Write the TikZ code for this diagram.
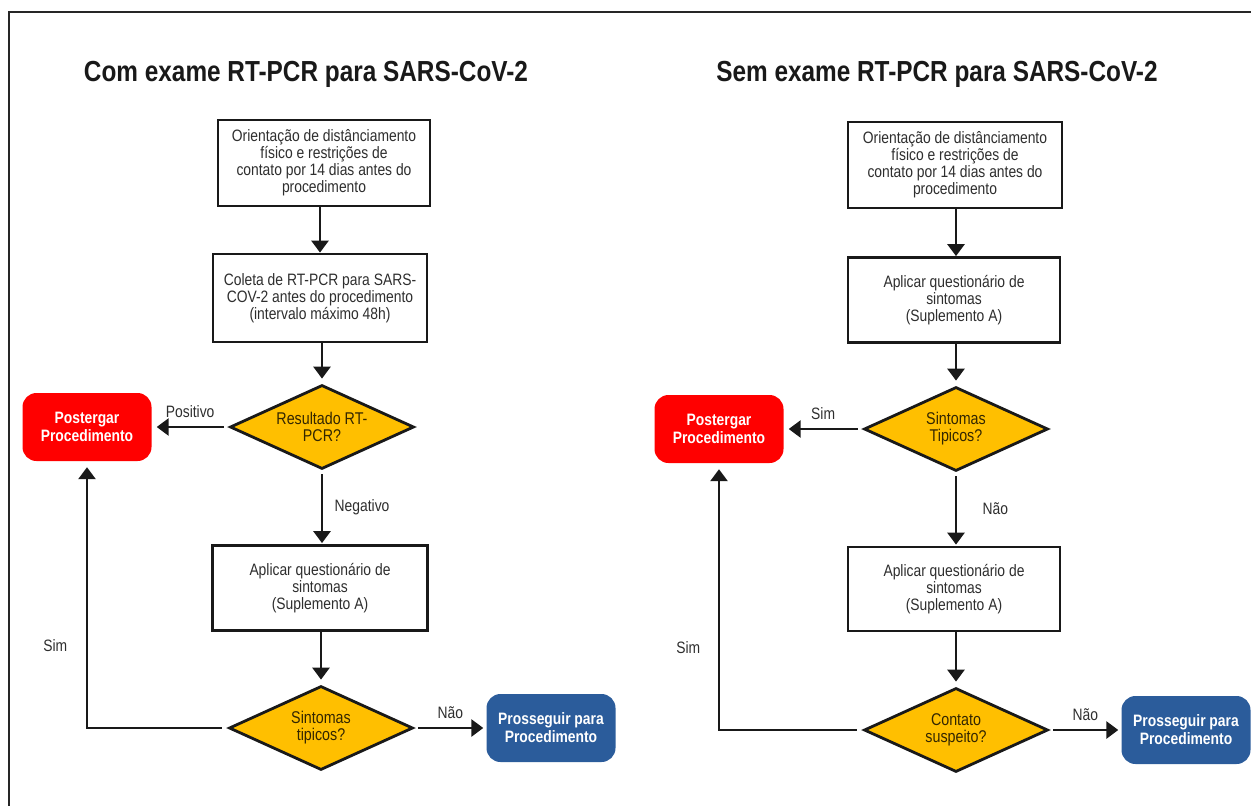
\documentclass[tikz,border=0pt]{standalone}
\usepackage{fontspec}
\setmainfont{Liberation Sans}[FakeStretch=0.84]
\usetikzlibrary{arrows.meta,positioning,shapes.geometric}
\definecolor{decyellow}{HTML}{FFBF00}
\definecolor{stopred}{HTML}{FF0000}
\definecolor{goblue}{HTML}{2B5C9B}
\definecolor{txtgray}{HTML}{2E2E2E}

\begin{document}
\begin{tikzpicture}[x=1pt,y=-1pt,
    stepbox/.style={draw=black!90, line width=2.8pt, fill=white, minimum width=212pt,
        minimum height=86pt, align=center, text=txtgray, font=\fontsize{16.5}{17}\selectfont},
    decision/.style={diamond, aspect=2.2, draw=black!90, line width=2.8pt, fill=decyellow, minimum width=184pt,
        minimum height=84pt, inner sep=0pt, align=center, text=black!80!decyellow,
        font=\fontsize{17}{17}\selectfont},
    endbox/.style={rounded corners=14pt, minimum width=129pt, minimum height=68pt, align=center,
        text=white, font=\fontsize{16.5}{18}\bfseries\selectfont},
    flow/.style={draw=black!90, line width=2.8pt, -{Triangle[width=17pt,length=12pt]}},
    lbl/.style={text=txtgray, font=\fontsize{16.5}{17}\selectfont},
    heading/.style={text=black!90, font=\fontsize{29}{32}\bfseries\selectfont}]
    \useasboundingbox (0,0) rectangle (1251,806);
    % frame
    \draw[black!85, line width=1.3pt] (9,806) -- (9,12) -- (1251,12);

    % Left column: with RT-PCR
    \node[heading] (titleA) at (306,74) {Com exame RT-PCR para SARS-CoV-2};
    \node[stepbox] (orientA) at (324,163) {Orientação de distânciamento\\físico e restrições de\\contato por 14 dias antes do\\procedimento};
    \node[stepbox, minimum width=214pt, minimum height=88pt] (coleta) at (320,298) {Coleta de RT-PCR para SARS-\\COV-2 antes do procedimento\\(intervalo máximo 48h)};
    \node[decision] (result) at (322,427) {Resultado RT-\\PCR?};
    \node[endbox, fill=stopred] (postA) at (87,427) {Postergar\\Procedimento};
    \node[stepbox, minimum width=215pt, minimum height=85pt] (questA) at (320,588) {Aplicar questionário de\\sintomas\\(Suplemento A)};
    \node[decision] (sintA) at (321,728) {Sintomas\\tipicos?};
    \node[endbox, fill=goblue] (goA) at (551,728) {Prosseguir para\\Procedimento};

    \draw[flow] (orientA.south -| coleta.north) -- (coleta.north);
    \draw[flow, shorten >=5pt] (coleta.south -| result.north) -- (result.north);
    \draw[flow, shorten <=5pt, shorten >=5pt] (result.west) -- node[lbl, above=5pt] {Positivo} (postA.east);
    \draw[flow, shorten <=4pt, shorten >=1pt] (result.south) -- node[lbl, right=8pt] {Negativo} (questA.north -| result.south);
    \draw[flow, shorten >=5pt] (questA.south -| sintA.north) -- (sintA.north);
    \draw[flow, shorten <=4pt, shorten >=3pt] (sintA.east) -- node[lbl, above=5pt] {Não} (goA.west);
    \draw[flow, shorten <=6pt, shorten >=6pt] (sintA.west) -| node[lbl, pos=0.655, left=15pt] {Sim} (postA.south);

    % Right column: without RT-PCR
    \node[heading] (titleB) at (937,74) {Sem exame RT-PCR para SARS-CoV-2};
    \node[stepbox, minimum width=214pt] (orientB) at (955,165) {Orientação de distânciamento\\físico e restrições de\\contato por 14 dias antes do\\procedimento};
    \node[stepbox, minimum height=85pt] (questB) at (954,300) {Aplicar questionário de\\sintomas\\(Suplemento A)};
    \node[decision] (sintB) at (956,429) {Sintomas\\Tipicos?};
    \node[endbox, fill=stopred] (postB) at (719,429) {Postergar\\Procedimento};
    \node[stepbox, minimum height=84pt] (contB) at (954,589) {Aplicar questionário de\\sintomas\\(Suplemento A)};
    \node[decision] (contato) at (956,730) {Contato\\suspeito?};
    \node[endbox, fill=goblue] (goB) at (1186,730) {Prosseguir para\\Procedimento};

    \draw[flow] (orientB.south -| sintB.north) -- (questB.north -| sintB.north);
    \draw[flow, shorten >=5pt] (questB.south -| sintB.north) -- (sintB.north);
    \draw[flow, shorten <=5pt, shorten >=5pt] (sintB.west) -- node[lbl, above=5pt] {Sim} (postB.east);
    \draw[flow, shorten <=4pt, shorten >=1pt] (sintB.south) -- node[lbl, right=22pt] {Não} (contB.north -| sintB.south);
    \draw[flow, shorten >=5pt] (contB.south -| contato.north) -- (contato.north);
    \draw[flow, shorten <=4pt, shorten >=3pt] (contato.east) -- node[lbl, above=5pt] {Não} (goB.west);
    \draw[flow, shorten <=6pt, shorten >=6pt] (contato.west) -| node[lbl, pos=0.655, left=14pt] {Sim} (postB.south);
\end{tikzpicture}
\end{document}
